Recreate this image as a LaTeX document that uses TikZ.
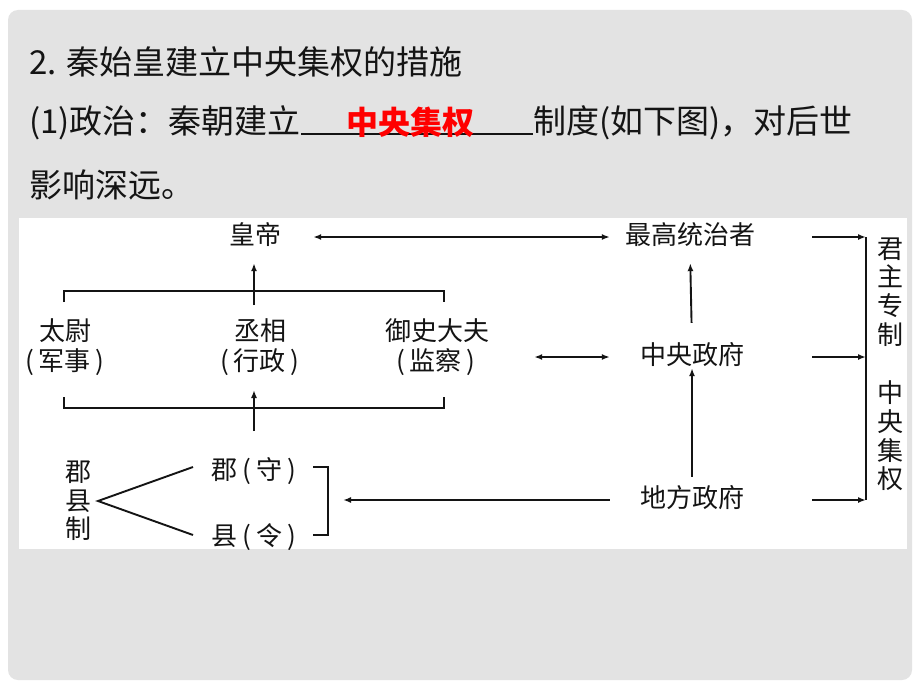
\documentclass[tikz,border=0pt]{standalone}
\usepackage{fontspec}
\newfontfamily\cjk{Noto Sans CJK SC}
\usetikzlibrary{arrows.meta}
\definecolor{bgc}{HTML}{E3E3E3}
\definecolor{ink}{HTML}{141414}
\begin{document}
\begin{tikzpicture}[x=1pt,y=-1pt]
\tikzset{
 hdr/.style={anchor=west, inner sep=0pt, font=\cjk\fontsize{33}{36}\selectfont, text=ink},
 dg/.style={inner sep=0pt, text height=20pt, text depth=6pt, font=\cjk\fontsize{26}{29}\selectfont, text=ink},
 vt/.style={inner sep=0pt, align=center, font=\cjk\fontsize{26}{28.7}\selectfont, text=ink},
 ln/.style={line width=1.9pt, draw=ink},
 arr/.style={ln, -{Latex[length=8pt,width=6pt]}},
 biarr/.style={ln, {Latex[length=8pt,width=6pt]}-{Latex[length=8pt,width=6pt]}},
}
\newcommand\pgap{\hspace{5pt}}
\useasboundingbox (0,0) rectangle (920,690);
\fill[white] (0,0) rectangle (920,690);
\fill[bgc, rounded corners=10pt] (8,10) rectangle (912,680);

% header
\node[hdr] (h1) at (29,62) {2. 秦始皇建立中央集权的措施};
\node[hdr] (h2a) at (29,123) {(1)政治：秦朝建立};
\node[hdr] (h2b) at (533,123) {制度(如下图)，对后世};
\draw[line width=2.2pt, ink] (h2a.east |- 0,134) -- (h2b.west |- 0,134);
\node[hdr, anchor=center, text=red, font=\cjk\bfseries\fontsize{32}{36}\selectfont] (ans) at (410,122) {中央集权};
\node[hdr] (h3) at (29,185) {影响深远。};

% diagram panel
\fill[white] (19,218) rectangle (907,549);
\begin{scope}
\clip (19,218) rectangle (907,549);

\node[dg] (hd) at (255,237) {皇帝};
\node[dg] (zg) at (690,237) {最高统治者};
\node[dg] (zy) at (692,357) {中央政府};
\node[dg] (df) at (692,500) {地方政府};

\node[dg] (tw1) at (65,333) {太尉};
\node[dg] (tw2) at (65,363) {(\pgap 军事\pgap)};
\node[dg] (cx1) at (260,333) {丞相};
\node[dg] (cx2) at (260,363) {(\pgap 行政\pgap)};
\node[dg] (ys1) at (437,333) {御史大夫};
\node[dg] (ys2) at (436,363) {(\pgap 监察\pgap)};

\node[vt] (jxz) at (78,501) {郡\\县\\制};
\node[dg] (jun) at (254,472) {郡\pgap(\pgap 守\pgap)};
\node[dg] (xian) at (254,538) {县\pgap(\pgap 令\pgap)};

\node[vt] (jzzz) at (890,292) {君\\主\\专\\制};
\node[vt] (zyjq) at (890,436) {中\\央\\集\\权};

% coordinates
\coordinate (tl) at (64,302);
\coordinate (tr) at (444,302);
\coordinate (tm) at (254,305);
\coordinate (bl) at (64,397);
\coordinate (br) at (444,397);
\coordinate (bm) at (254,431);
\coordinate (bt) at (254,390);
\coordinate (fork) at (98,501);
\coordinate (ja) at (193,467);
\coordinate (xa) at (193,535);
\coordinate (k1) at (313,467);
\coordinate (k2) at (328,467);
\coordinate (k3) at (328,535);
\coordinate (k4) at (313,535);
\coordinate (kin) at (343,501);
\coordinate (rbt) at (866,237);
\coordinate (rbb) at (866,500);

% connectors
\draw[biarr, shorten <=32pt, shorten >=15pt] (hd.east) -- (zg.west);
\draw[ln] (tl) -- ++(0,-11) -| (tr);
\draw[arr, shorten >=13pt] (tm) -- (hd.south -| tm);
\draw[ln] (bl) -- ++(0,11) -| (br);
\draw[arr] (bm) -- (bt);
\draw[biarr, shorten <=45pt, shorten >=30pt] (zy.west -| ys1.east) -- (zy.west);
\draw[arr, shorten <=21pt, shorten >=13pt] (zy.north) -- (zg.south);
\draw[arr, shorten <=10pt, shorten >=-2pt] (df.north) -- (zy.south);
\draw[ln] (ja) -- (fork) -- (xa);
\draw[ln] (k1) -- (k2) -- (k3) -- (k4);
\draw[arr, shorten <=30pt] (df.west) -- (df.west -| kin);
\draw[ln] (rbt) -- (rbb);
\draw[arr, shorten <=57pt] (zg.east) -- (zg.east -| rbt);
\draw[arr, shorten <=68pt] (zy.east) -- (zy.east -| rbt);
\draw[arr, shorten <=68pt] (df.east) -- (df.east -| rbt);
\end{scope}
\end{tikzpicture}
\end{document}
